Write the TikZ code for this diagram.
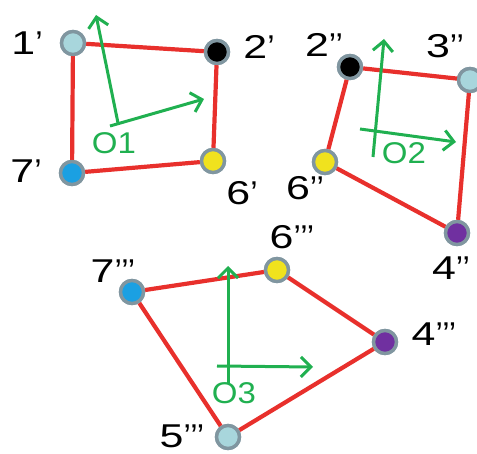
\documentclass[tikz,border=0pt]{standalone}
\usepackage{fontspec}
\setmainfont{Liberation Sans}
\usetikzlibrary{arrows.meta}
\definecolor{edgered}{RGB}{232,48,44}
\definecolor{axgreen}{RGB}{32,176,80}
\definecolor{ringgray}{RGB}{128,150,160}
\definecolor{lcyan}{RGB}{168,214,220}
\definecolor{dotyellow}{RGB}{240,226,30}
\definecolor{dotblue}{RGB}{27,160,226}
\definecolor{dotpurple}{RGB}{112,48,160}
\newcommand{\lab}[2]{\scalebox{1.3}[1]{#1}#2}
\begin{document}
\begin{tikzpicture}[x=1pt,y=-1pt,
  dot/.style={circle,draw=ringgray,line width=3.4pt,minimum size=23pt,inner sep=0pt},
  edge/.style={draw=edgered,line width=4.2pt},
  axis/.style={draw=axgreen,line width=3pt,-{Straight Barb[length=10pt,width=20pt,line width=3pt]}},
  lbl/.style={font=\fontsize{33}{36}\selectfont,inner sep=0pt},
  olbl/.style={font=\fontsize{30}{32}\selectfont,text=axgreen,inner sep=0pt}]
\useasboundingbox (0,0) rectangle (477,454);
% dots (group 1, 2, 3)
\node[dot,fill=lcyan] (a1) at (73,43) {};
\node[dot,fill=black] (a2) at (217,52) {};
\node[dot,fill=dotyellow] (a6) at (213,161) {};
\node[dot,fill=dotblue] (a7) at (72,173) {};
\node[dot,fill=black] (b2) at (350,67) {};
\node[dot,fill=lcyan] (b3) at (470,80) {};
\node[dot,fill=dotyellow] (b6) at (325,162) {};
\node[dot,fill=dotpurple] (b4) at (457,233) {};
\node[dot,fill=dotblue] (c7) at (132,292) {};
\node[dot,fill=dotyellow] (c6) at (277,270) {};
\node[dot,fill=dotpurple] (c4) at (385,342) {};
\node[dot,fill=lcyan] (c5) at (228,437) {};
% edges
\path[edge] (a1) -- (a2) -- (a6) -- (a7) -- (a1);
\path[edge] (b2) -- (b3.center) -- (b4) -- (b6) -- (b2);
\path[edge] (c7) -- (c6) -- (c4) -- (c5) -- (c7);
% dots again on top of the edges
\foreach \n/\c in {a1/lcyan,a2/black,a6/dotyellow,a7/dotblue,b2/black,b3/lcyan,b6/dotyellow,b4/dotpurple,c7/dotblue,c6/dotyellow,c4/dotpurple,c5/lcyan}
  \node[dot,fill=\c] at (\n) {};
% labels
\node[lbl] (l1) at (27,43) {\lab{1}{’}};
\node[lbl] (l2) at (259,47) {\lab{2}{’}};
\node[lbl] (l7) at (26,171) {\lab{7}{’}};
\node[lbl] (l6) at (242,193) {\lab{6}{’}};
\node[lbl] (m2) at (324,45) {\lab{2}{’’}};
\node[lbl] (m3) at (445,46) {\lab{3}{’’}};
\node[lbl] (m6) at (305,188) {\lab{6}{’’}};
\node[lbl] (m4) at (451,268) {\lab{4}{’’}};
\node[lbl] (n7) at (113,271) {\lab{7}{’’’}};
\node[lbl] (n6) at (292,237) {\lab{6}{’’’}};
\node[lbl] (n4) at (434,334) {\lab{4}{’’’}};
\node[lbl] (n5) at (182,436) {\lab{5}{’’’}};
% axes
\coordinate (o1v) at (118,123); \coordinate (o1vt) at (96,15);
\coordinate (o1h) at (110,126); \coordinate (o1ht) at (204,99);
\draw[axis] (o1v) -- (o1vt);
\draw[axis] (o1h) -- (o1ht);
\node[olbl] (t1) at (114,143) {\scalebox{1.1}[1]{O1}};
\coordinate (o2v) at (373,157); \coordinate (o2vt) at (384,39);
\coordinate (o2h) at (360,129); \coordinate (o2ht) at (456,142);
\draw[axis] (o2v) -- (o2vt);
\draw[axis] (o2h) -- (o2ht);
\node[olbl] (t2) at (404,153) {\scalebox{1.1}[1]{O2}};
\coordinate (o3v) at (228,383); \coordinate (o3vt) at (228,266);
\coordinate (o3h) at (217,366); \coordinate (o3ht) at (313,367);
\draw[axis] (o3v) -- (o3vt);
\draw[axis] (o3h) -- (o3ht);
\node[olbl] (t3) at (234,393) {\scalebox{1.1}[1]{O3}};
\end{tikzpicture}
\end{document}
